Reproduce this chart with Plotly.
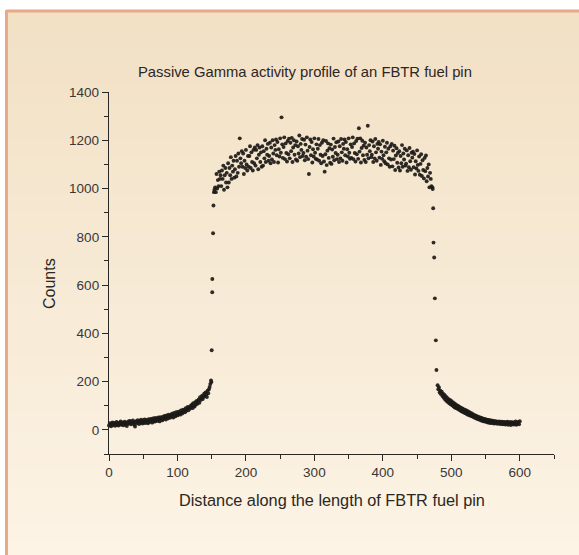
import numpy as np
import plotly.graph_objects as go

# ---------------- data ----------------
left_tail_start = 0
left_tail_counts = [
    18, 28, 22, 15, 26, 31, 19, 24, 29, 17,
    25, 33, 20, 28, 18, 30, 24, 35, 21, 27,
    31, 19, 27, 34, 22, 29, 16, 32, 25, 36,
    28, 37, 23, 33, 26, 39, 30, 21, 14, 34,
    36, 27, 40, 31, 24, 38, 29, 42, 33, 26,
    39, 30, 43, 28, 36, 41, 32, 27, 44, 35,
    33, 45, 37, 30, 47, 39, 34, 49, 36, 43,
    48, 38, 51, 42, 35, 53, 44, 50, 40, 55,
    46, 58, 49, 43, 60, 52, 47, 63, 55, 50,
    62, 54, 67, 58, 51, 70, 61, 56, 73, 64,
    60, 75, 66, 71, 63, 80, 72, 68, 84, 76,
    82, 73, 90, 79, 86, 95, 81, 92, 88, 99,
    94, 104, 90, 110, 100, 97, 115, 105, 120, 108,
    118, 126, 112, 135, 124, 130, 142, 128, 137, 150,
    140, 155, 147, 136, 162, 152, 168, 178, 190,
]

rise_distance = [149.0, 149.6, 150.0, 150.8, 150.9, 152.0, 152.6, 153.3]
rise_counts = [205, 198, 330, 570, 625, 815, 930, 985]

plateau_start = 154
plateau_counts = [
    995, 1005, 985, 1060, 1000, 1035, 1010, 1070, 1040, 1055,
    1010, 1075, 1040, 1095, 995, 1055, 1085, 1025, 1065, 1005,
    1105, 1025, 1085, 1055, 1130, 1040, 1095, 1070, 1115, 1045,
    1080, 1135, 1050, 1115, 1065, 1145, 1090, 1208, 1125, 1105,
    1155, 1090, 1145, 1060, 1115, 1085, 1160, 1100, 1075, 1135,
    1090, 1135, 1175, 1085, 1150, 1110, 1075, 1160, 1105, 1170,
    1095, 1160, 1125, 1180, 1080, 1140, 1170, 1110, 1150, 1090,
    1175, 1095, 1155, 1125, 1200, 1110, 1165, 1140, 1185, 1115,
    1135, 1190, 1105, 1170, 1120, 1200, 1145, 1110, 1180, 1160,
    1203, 1138, 1193, 1108, 1163, 1133, 1208, 1148, 1295, 1183,
    1127, 1172, 1212, 1122, 1187, 1147, 1112, 1197, 1142, 1207,
    1125, 1190, 1155, 1210, 1110, 1170, 1200, 1140, 1180, 1120,
    1195, 1115, 1175, 1145, 1220, 1130, 1185, 1160, 1205, 1135,
    1147, 1202, 1117, 1182, 1132, 1212, 1157, 1122, 1060, 1172,
    1203, 1138, 1193, 1108, 1163, 1133, 1208, 1148, 1123, 1183,
    1120, 1165, 1205, 1115, 1180, 1140, 1105, 1190, 1135, 1200,
    1112, 1070, 1142, 1197, 1097, 1157, 1187, 1127, 1167, 1107,
    1182, 1102, 1162, 1132, 1207, 1117, 1172, 1147, 1192, 1122,
    1140, 1195, 1110, 1175, 1125, 1205, 1150, 1115, 1185, 1165,
    1203, 1138, 1193, 1108, 1163, 1133, 1208, 1148, 1123, 1183,
    1127, 1172, 1212, 1122, 1187, 1147, 1112, 1197, 1142, 1207,
    1123, 1250, 1153, 1208, 1108, 1168, 1198, 1138, 1178, 1118,
    1190, 1110, 1170, 1140, 1260, 1125, 1180, 1155, 1200, 1130,
    1140, 1195, 1110, 1175, 1125, 1205, 1150, 1115, 1185, 1165,
    1193, 1128, 1183, 1098, 1153, 1123, 1198, 1138, 1113, 1173,
    1105, 1150, 1190, 1100, 1165, 1125, 1090, 1175, 1120, 1185,
    1092, 1157, 1122, 1177, 1077, 1137, 1167, 1107, 1147, 1087,
    1155, 1075, 1135, 1105, 1180, 1090, 1145, 1120, 1165, 1095,
    1103, 1158, 1073, 1138, 1088, 1168, 1113, 1078, 1148, 1128,
    1153, 1088, 1143, 1058, 1113, 1083, 1158, 1098, 1073, 1133,
    1057, 1102, 1142, 1052, 1117, 1077, 1042, 1127, 1072, 1137,
    1030, 1085, 1050, 1100, 1005, 1065, 1040, 1010,
]

fall_distance = [472.4, 472.8, 473.5, 474.0, 475.0, 476.0, 477.4, 478.3]
fall_counts = [1005, 998, 918, 776, 714, 545, 371, 248]

right_tail_start = 480
right_tail_counts = [
    185, 168, 176, 155, 162, 148, 158, 140, 150, 133,
    145, 126, 138, 120, 132, 115, 127, 110, 124, 106,
    120, 103, 115, 98, 110, 93, 106, 90, 102, 87,
    99, 84, 95, 80, 92, 77, 89, 74, 86, 71,
    83, 69, 80, 65, 77, 62, 74, 60, 70, 57,
    68, 55, 64, 52, 61, 49, 59, 47, 56, 44,
    54, 43, 51, 40, 49, 38, 47, 36, 45, 35,
    44, 33, 42, 31, 41, 30, 40, 28, 39, 29,
    38, 27, 37, 26, 36, 28, 35, 25, 34, 27,
    35, 24, 33, 26, 34, 23, 32, 25, 33, 22,
    31, 24, 34, 21, 30, 26, 33, 20, 31, 25,
    32, 22, 30, 24, 35, 21, 29, 26, 33, 23,
    36,
]

x_ticks = [0, 100, 200, 300, 400, 500, 600]
y_ticks = [0, 200, 400, 600, 800, 1000, 1200, 1400]

title_text = "Passive Gamma activity profile of an FBTR fuel pin"
x_title = "Distance along the length of FBTR fuel pin"
y_title = "Counts"

# ---------------- assemble ----------------
distance = np.concatenate([
    np.arange(left_tail_start, left_tail_start + len(left_tail_counts)),
    rise_distance,
    np.arange(plateau_start, plateau_start + len(plateau_counts)),
    fall_distance,
    np.arange(right_tail_start, right_tail_start + len(right_tail_counts)),
])
counts = np.concatenate([left_tail_counts, rise_counts, plateau_counts,
                         fall_counts, right_tail_counts])

W, H = 579, 555
L, R, T, B = 109, 25, 92, 101
pw, ph = W - L - R, H - T - B


def px_x(p):
    return (p - L) / pw


def px_y(p):
    return (H - B - p) / ph


fig = go.Figure()
fig.add_trace(go.Scatter(
    x=distance, y=counts, mode="markers",
    marker=dict(size=3.9, color="#1c1a18", opacity=0.92, line=dict(width=0)),
    cliponaxis=False, hoverinfo="x+y", showlegend=False,
))

# background gradient bands + border
shapes = []
top_c = np.array([242, 225, 197])
bot_c = np.array([253, 244, 230])
n_bands = 30
y0_px, y1_px = 11, H + 5
for i in range(n_bands):
    a = y0_px + (y1_px - y0_px) * i / n_bands
    b = y0_px + (y1_px - y0_px) * (i + 1) / n_bands + 1
    t = i / (n_bands - 1)
    c = (top_c * (1 - t) + bot_c * t).astype(int)
    shapes.append(dict(type="rect", xref="paper", yref="paper", layer="below",
                       x0=px_x(7), x1=px_x(W + 5), y0=px_y(b), y1=px_y(a),
                       fillcolor=f"rgb({c[0]},{c[1]},{c[2]})", line=dict(width=0)))
border = "#e6aa88"
shapes.append(dict(type="line", xref="paper", yref="paper", layer="below",
                   x0=px_x(6.5), x1=px_x(W + 5), y0=px_y(11), y1=px_y(11),
                   line=dict(color=border, width=3)))
shapes.append(dict(type="line", xref="paper", yref="paper", layer="below",
                   x0=px_x(6.5), x1=px_x(6.5), y0=px_y(10), y1=px_y(H + 5),
                   line=dict(color=border, width=3)))

font_family = "Liberation Sans, Arial, sans-serif"
text_color = "#2b2724"

annotations = [
    dict(text=title_text, x=px_x(305), y=px_y(72), xref="paper", yref="paper",
         showarrow=False, xanchor="center", yanchor="middle",
         font=dict(size=14.8, color=text_color, family=font_family)),
    dict(text=x_title, x=px_x(332), y=px_y(500), xref="paper", yref="paper",
         showarrow=False, xanchor="center", yanchor="middle",
         font=dict(size=16.3, color=text_color, family=font_family)),
    dict(text=y_title, x=px_x(49), y=px_y(284), xref="paper", yref="paper",
         showarrow=False, xanchor="center", yanchor="middle", textangle=-90,
         font=dict(size=16, color=text_color, family=font_family)),
]

axis_common = dict(
    showline=True, linecolor="#2b2724", linewidth=1.3, mirror=False,
    ticks="outside", ticklen=6, tickwidth=1.3, tickcolor="#2b2724",
    showgrid=False, zeroline=False,
    tickfont=dict(size=13.5, color="#3a3633", family=font_family),
)

fig.update_layout(
    width=W, height=H,
    margin=dict(l=L, r=R, t=T, b=B, pad=0),
    paper_bgcolor="white", plot_bgcolor="rgba(0,0,0,0)",
    shapes=shapes, annotations=annotations, showlegend=False,
    xaxis=dict(range=[0, 650], tickmode="array", tickvals=x_ticks,
               minor=dict(dtick=50, tick0=0, ticks="outside", ticklen=3.5,
                          tickwidth=1.2, tickcolor="#2b2724"),
               **axis_common),
    yaxis=dict(range=[-100, 1400], tickmode="array", tickvals=y_ticks,
               minor=dict(dtick=100, tick0=0, ticks="outside", ticklen=3.5,
                          tickwidth=1.2, tickcolor="#2b2724"),
               **axis_common),
)

fig.write_html("out.html")
